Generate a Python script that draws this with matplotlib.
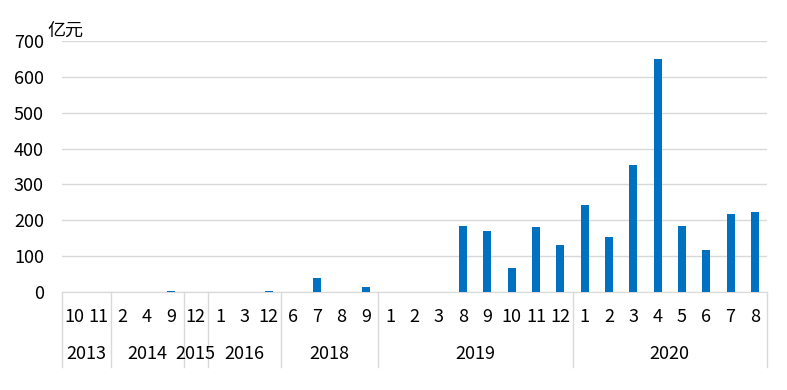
import matplotlib
matplotlib.use("Agg")
import matplotlib.pyplot as plt
import matplotlib.transforms as mtransforms

plt.rcParams['font.family'] = ['Noto Sans CJK SC', 'DejaVu Sans']

# year groups and the months shown under each
years = ["2013", "2014", "2015", "2016", "2018", "2019", "2020"]
months = [
    [10, 11],
    [2, 4, 9],
    [12],
    [1, 3, 12],
    [6, 7, 8, 9],
    [1, 2, 3, 8, 9, 10, 11, 12],
    [1, 2, 3, 4, 5, 6, 7, 8],
]
# amount per month, 亿元
values = [
    0, 1,
    0, 0, 3,
    1,
    0, 0, 3,
    0, 39, 0, 14,
    0, 1, 0, 184, 171, 67, 181, 130,
    244, 152, 355, 650, 183, 116, 217, 222,
]

month_labels = [str(m) for grp in months for m in grp]
x = list(range(len(month_labels)))

fig = plt.figure(figsize=(7.87, 3.90), dpi=100)
ax = fig.add_axes([62 / 787, 1 - 292 / 390, 705 / 787, 251 / 390])

ax.bar(x, values, width=0.33, color="#0070C0", zorder=3)

ax.set_xlim(-0.5, len(x) - 0.5)
ax.set_ylim(0, 700)
ax.set_yticks(range(0, 701, 100))
ax.yaxis.grid(True, color="#d9d9d9", linewidth=1)
ax.set_axisbelow(True)
ax.tick_params(axis="y", length=0, labelsize=13, pad=13)
ax.set_xticks([])
for side in ["top", "right", "left"]:
    ax.spines[side].set_visible(False)
ax.spines["bottom"].set_color("#d9d9d9")

trans = mtransforms.blended_transform_factory(ax.transData, ax.transAxes)

# month labels
for xi, lab in zip(x, month_labels):
    ax.text(xi, -0.10, lab, transform=trans, ha="center", va="center", fontsize=13)

# year labels and separators
start = 0
edges = [-0.5]
for yr, grp in zip(years, months):
    end = start + len(grp)
    ax.text((start + end - 1) / 2, -0.247, yr, transform=trans,
            ha="center", va="center", fontsize=13)
    edges.append(end - 0.5)
    start = end
for e in edges:
    ax.plot([e, e], [0, -0.30], transform=trans, color="#d9d9d9",
            linewidth=1, clip_on=False)

fig.text(47 / 787, 1 - 31 / 390, "亿元", ha="left", va="center", fontsize=13)

fig.savefig("out.png", dpi=100, facecolor="white")
